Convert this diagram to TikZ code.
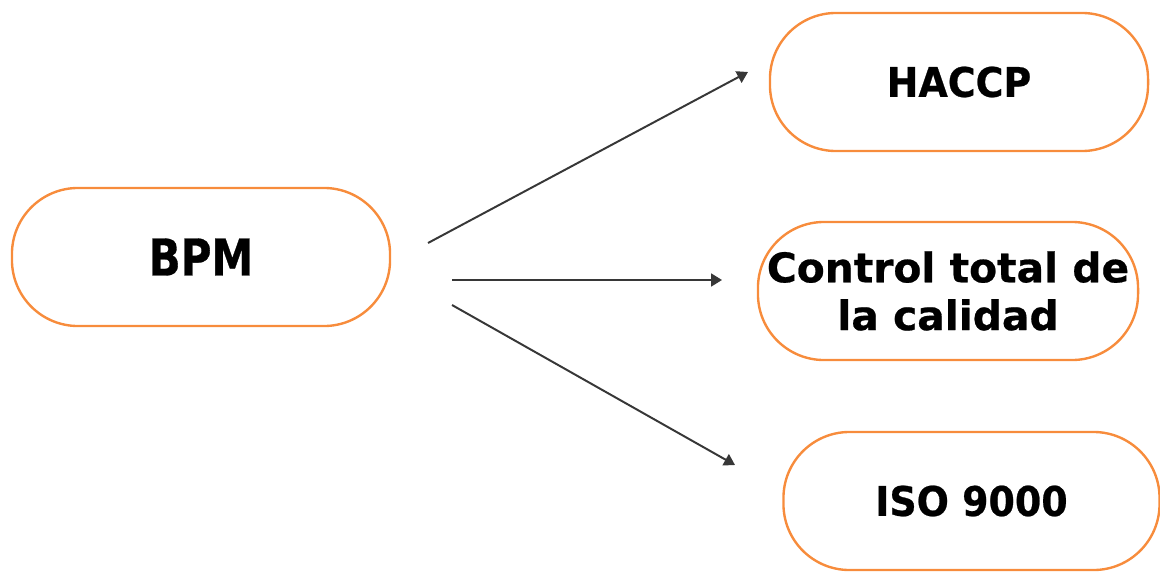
\documentclass[tikz,border=0pt]{standalone}
\usepackage{fontspec}
\setmainfont{DejaVu Sans}
\newfontfamily\stagefont{DejaVu Sans}[FakeStretch=0.93, FakeBold=0.6]
\newfontfamily\bpmfont{DejaVu Sans}[FakeStretch=0.83, FakeBold=0.6]
\newfontfamily\ctcfont{DejaVu Sans}[FakeBold=0.6]
\usetikzlibrary{arrows.meta}

\definecolor{boxorange}{RGB}{247,140,60}
\definecolor{arrowgray}{RGB}{55,55,55}

\tikzset{
  stage/.style={draw=boxorange, line width=1.7pt, rounded corners=1.65cm,
    minimum width=9.45cm, minimum height=3.45cm, align=center,
    font=\stagefont\bfseries\fontsize{29}{34}\selectfont},
  link/.style={draw=arrowgray, line width=1.4pt, -{Triangle[length=0.27cm,width=0.32cm]}}
}

\begin{document}
\begin{tikzpicture}[x=0.025cm, y=-0.025cm]
\useasboundingbox (0,0) rectangle (1160,573);

%Source
\node[stage, font=\bpmfont\bfseries\fontsize{36}{40}\selectfont] (bpm) at (201,257) {BPM};

%Targets
\node[stage] (haccp) at (959,82) {HACCP};
\node[stage, minimum width=9.5cm, font=\ctcfont\bfseries\fontsize{29}{34}\selectfont] (ctc) at (948,291) {Control total de\\la calidad};
\node[stage, minimum width=9.4cm] (iso) at (971.5,501) {ISO 9000};

%Arrows
\coordinate (s1) at (428,243);
\coordinate (e1) at (748,72);
\coordinate (s2) at (452,280);
\coordinate (e2) at (722,280);
\coordinate (s3) at (452,305);
\coordinate (e3) at (735,465);
\foreach \from/\to in {s1/e1, s2/e2, s3/e3}
\draw [link] (\from) -- (\to);
\end{tikzpicture}
\end{document}
